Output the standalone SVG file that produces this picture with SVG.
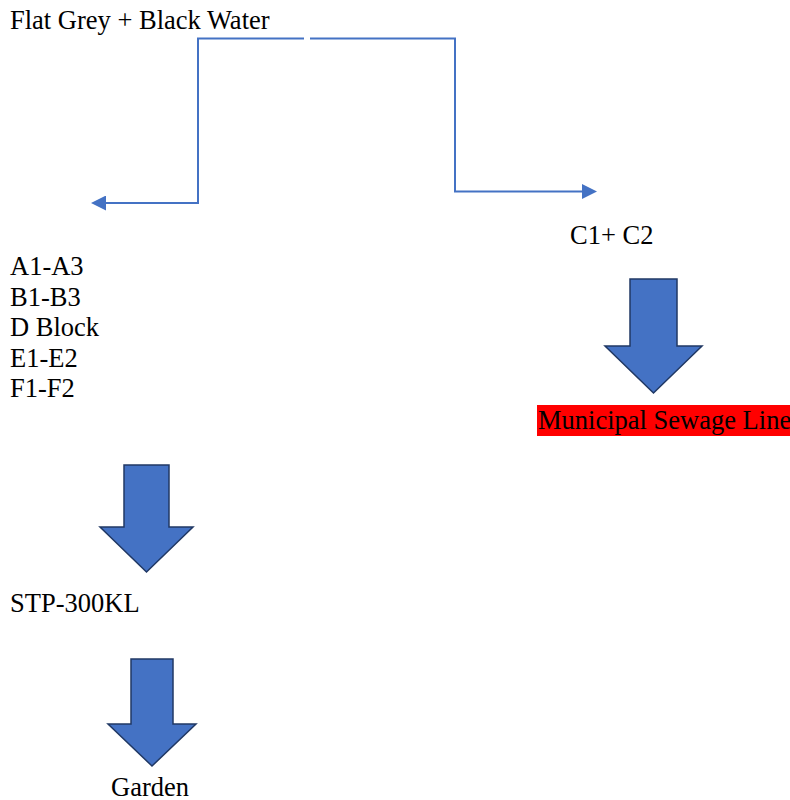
<svg xmlns="http://www.w3.org/2000/svg" width="790" height="800" viewBox="0 0 790 800">
<style>
text{font-family:"Liberation Serif","Times New Roman",serif;font-size:26.5px;fill:#000}
.conn{fill:none;stroke:#4472C4;stroke-width:2}
.blk{fill:#4472C4;stroke:#203864;stroke-width:1.5;stroke-linejoin:miter}
</style>
<defs>
<marker id="ah" viewBox="0 0 10 10" refX="8" refY="5" markerWidth="15" markerHeight="15" markerUnits="userSpaceOnUse" orient="auto">
<path d="M0,0 L10,5 L0,10 Z" fill="#4472C4"/>
</marker>
</defs>
<rect width="790" height="800" fill="#fff"/>
<g id="source"><text x="10" y="29">Flat Grey + Black Water</text></g>
<g id="connectors">
<path class="conn" d="M304,38.5 H198 V203 H94" marker-end="url(#ah)"/>
<path class="conn" d="M310,38.5 H455 V191.5 H594" marker-end="url(#ah)"/>
<path class="blk" d="M630,279 H677 V346 H702 L653.5,393 L605,346 H630 Z"/>
<path class="blk" d="M124,465 H169 V527 H193 L146.5,572 L100,527 H124 Z"/>
<path class="blk" d="M131,659 H173 V724 H196 L152,766 L108,724 H131 Z"/>
</g>
<g id="c-blocks"><text x="570" y="244">C1+ C2</text></g>
<g id="municipal"><rect x="537" y="405" width="253" height="31" fill="#FF0000"/><text x="538" y="429">Municipal Sewage Line</text></g>
<g id="blocks">
<text x="10" y="275">A1-A3</text>
<text x="10" y="305.5">B1-B3</text>
<text x="10" y="336">D Block</text>
<text x="10" y="366.5">E1-E2</text>
<text x="10" y="397">F1-F2</text>
</g>
<g id="stp"><text x="10" y="612">STP-300KL</text></g>
<g id="garden"><text x="111" y="796">Garden</text></g>
</svg>
